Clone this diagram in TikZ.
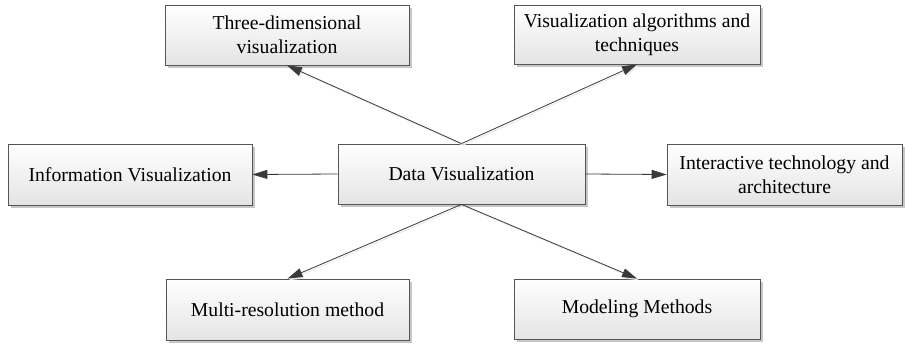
\documentclass[tikz,border=0pt]{standalone}
\usepackage{fontspec}
\setmainfont{Liberation Serif}
\usetikzlibrary{arrows.meta,shadows}

\definecolor{boxline}{HTML}{555555}
\definecolor{arrowline}{HTML}{3A3A3A}
\definecolor{boxbottom}{HTML}{E4E4E4}

\tikzset{
  topicbox/.style={
    rectangle, draw=boxline, line width=0.8pt,
    top color=white, bottom color=boxbottom,
    drop shadow={shadow xshift=3pt, shadow yshift=-3pt, fill=black!22, opacity=1},
    inner sep=0pt, align=center,
    font=\fontsize{19.7}{24}\selectfont
  },
  link/.style={
    draw=arrowline, line width=0.8pt,
    -{Triangle[length=15pt,width=9pt]}
  },
  linkshadow/.style={
    draw=black!8, line width=1pt,
    -{Triangle[length=15pt,width=9pt]}
  }
}

\begin{document}
\begin{tikzpicture}[x=1pt, y=-1pt]
  \useasboundingbox[fill=white] (0,0) rectangle (905,345);

  % central topic
  \node[topicbox, minimum width=247pt, minimum height=60pt] (data) at (461.5,174) {Data Visualization};

  % surrounding topics
  \node[topicbox, minimum width=244pt, minimum height=60pt] (three) at (287,35)
    {Three-dimensional\\visualization};
  \node[topicbox, minimum width=246pt, minimum height=59pt] (algo) at (637,34.5)
    {Visualization algorithms and\\techniques};
  \node[topicbox, minimum width=244pt, minimum height=61pt] (info) at (130,174.5)
    {Information Visualization};
  \node[topicbox, minimum width=235pt, minimum height=61pt] (inter) at (784.5,174.5)
    {Interactive technology and\\architecture};
  \node[topicbox, minimum width=243pt, minimum height=61pt] (multi) at (287.5,309.5)
    {Multi-resolution method};
  \node[topicbox, minimum width=246pt, minimum height=60pt] (model) at (637,309)
    {Modeling Methods};

  % faint shadows under the slanted connectors
  \begin{scope}[transform canvas={xshift=1.5pt, yshift=-1.5pt}]
    \draw[linkshadow] (data.north) -- (three.south);
    \draw[linkshadow] (data.north) -- (algo.south);
    \draw[linkshadow] (data.south) -- (multi.north);
    \draw[linkshadow] (data.south) -- (model.north);
  \end{scope}

  % connectors
  \draw[link] (data.north) -- (three.south);
  \draw[link] (data.north) -- (algo.south);
  \draw[link] (data.west) -- (info.east);
  \draw[link] (data.east) -- (inter.west);
  \draw[link] (data.south) -- (multi.north);
  \draw[link] (data.south) -- (model.north);
\end{tikzpicture}
\end{document}
